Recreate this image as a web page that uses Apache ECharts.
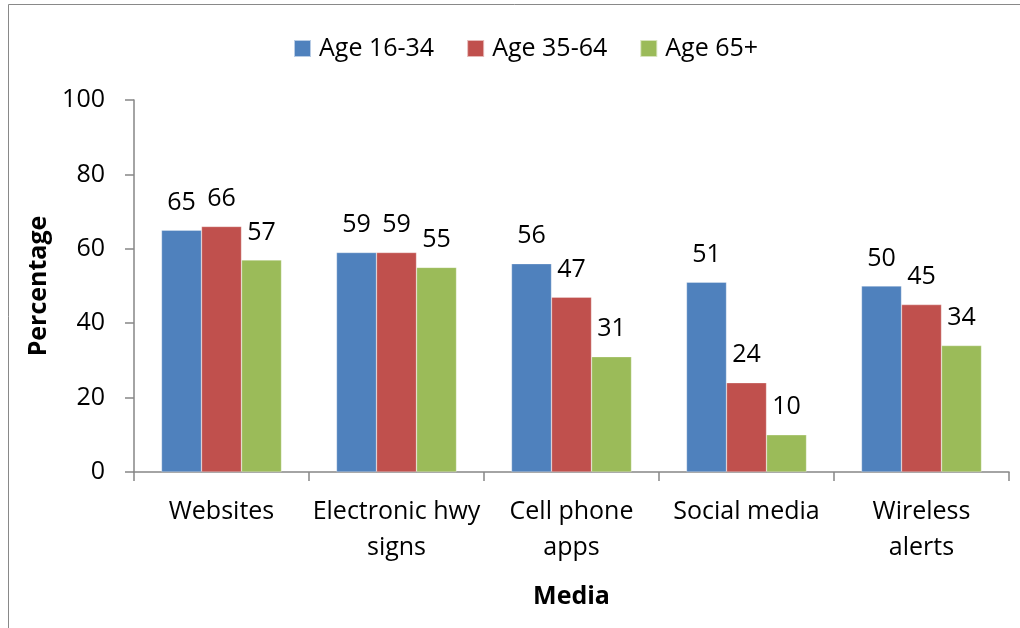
<!DOCTYPE html>
<html>
<head>
<meta charset="utf-8">
<script src="https://cdn.jsdelivr.net/npm/echarts@6/dist/echarts.min.js"></script>
<style>
html,body{margin:0;padding:0;background:#fff;}
#chart{width:1020px;height:628px;}
</style>
</head>
<body>
<div id="chart"></div>
<script>
var categories = ["Websites", "Electronic hwy\nsigns", "Cell phone\napps", "Social media", "Wireless\nalerts"];
var seriesNames = ["Age 16-34", "Age 35-64", "Age 65+"];
var age16to34 = [65, 59, 56, 51, 50];
var age35to64 = [66, 59, 47, 24, 45];
var age65plus = [57, 55, 31, 10, 34];
var yTicks = [0, 20, 40, 60, 80, 100];

var FONT = "'Open Sans', sans-serif";
var colors = ['#4F81BD', '#C0504D', '#9BBB59'];
var values = [age16to34, age35to64, age65plus];

var chart = echarts.init(document.getElementById('chart'), null, {renderer: 'canvas'});

var series = values.map(function (v, i) {
  return {
    name: seriesNames[i],
    type: 'bar',
    data: v,
    barWidth: 40,
    barGap: '0%',
    itemStyle: {color: colors[i], borderColor: 'rgba(255,255,255,0.6)', borderWidth: 0.5},
    label: {
      show: true,
      position: 'top',
      distance: 15,
      color: '#000',
      fontFamily: FONT,
      fontSize: 25
    }
  };
});

chart.setOption({
  animation: false,
  backgroundColor: '#fff',
  color: colors,
  graphic: [{
    type: 'rect',
    shape: {x: 8.5, y: 4.5, width: 1200, height: 1000},
    style: {fill: 'none', stroke: '#898989', lineWidth: 1},
    silent: true,
    z: -1
  }],
  legend: {
    left: 288,
    top: 31,
    itemWidth: 17,
    itemHeight: 17,
    itemGap: 32,
    icon: 'rect',
    textStyle: {fontFamily: FONT, fontSize: 25, color: '#000', padding: [0, 0, 0, 3]},
    data: seriesNames
  },
  grid: {left: 134, right: 11, top: 100, bottom: 156, containLabel: false},
  xAxis: {
    type: 'category',
    data: categories,
    name: 'Media',
    nameLocation: 'middle',
    nameGap: 112,
    nameTextStyle: {fontFamily: FONT, fontSize: 25, fontWeight: 'bold', color: '#000'},
    axisLine: {lineStyle: {color: '#868686', width: 1.5}},
    axisTick: {show: true, length: 9, lineStyle: {color: '#868686', width: 1.5}},
    axisLabel: {
      interval: 0,
      margin: 22,
      fontFamily: FONT,
      fontSize: 25,
      lineHeight: 36,
      color: '#000'
    }
  },
  yAxis: {
    type: 'value',
    min: 0,
    max: 100,
    interval: 20,
    name: 'Percentage',
    nameLocation: 'middle',
    nameRotate: 90,
    nameGap: 83,
    nameTextStyle: {fontFamily: FONT, fontSize: 25, fontWeight: 'bold', color: '#000'},
    axisLine: {show: true, lineStyle: {color: '#868686', width: 1.5}},
    axisTick: {show: true, length: 9, lineStyle: {color: '#868686', width: 1.5}},
    splitLine: {show: false},
    axisLabel: {
      margin: 29,
      fontFamily: FONT,
      fontSize: 25,
      color: '#000',
      formatter: function (v) { return yTicks.indexOf(v) >= 0 ? String(v) : ''; }
    }
  },
  series: series
});
</script>
</body>
</html>
